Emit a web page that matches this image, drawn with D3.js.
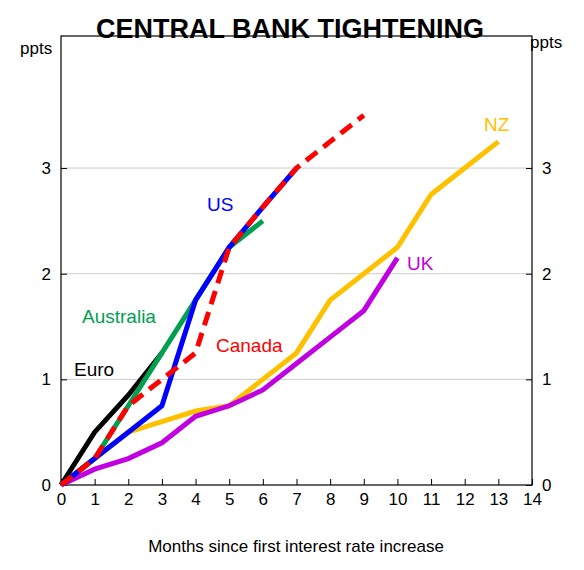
<!DOCTYPE html><html><head><script src="https://cdn.jsdelivr.net/npm/d3@7"></script>
<style>body{margin:0;background:#fff}</style></head><body><svg id="c" width="584" height="570"></svg>
<script>
const months=[0,1,2,3,4,5,6,7,8,9,10,11,12,13];
const euro=[0,0.5,0.85,1.25];
const australia=[0,0.25,0.75,1.25,1.75,2.25,2.5];
const us=[0,0.25,0.5,0.75,1.75,2.25,2.63,3.0];
const canada=[0,0.25,0.75,1.0,1.25,2.25,2.63,3.0,3.25,3.5];
const nz=[0,0.25,0.5,0.6,0.7,0.75,1.0,1.25,1.75,2.0,2.25,2.75,3.0,3.25];
const uk=[0,0.15,0.25,0.4,0.65,0.75,0.9,1.15,1.4,1.65,2.15];
const xTicks=[0,1,2,3,4,5,6,7,8,9,10,11,12,13,14];
const yTicks=[0,1,2,3];
const svg=d3.select("#c"),F="Liberation Sans, Arial, sans-serif";
const L=61,R=532,T=36,B=485;
const x=d3.scaleLinear().domain([0,14]).range([L,R]);
const y=d3.scaleLinear().domain([0,4.25]).range([B,T]);
svg.selectAll(".g").data(yTicks.slice(1)).join("line").attr("x1",L).attr("x2",R).attr("y1",d=>y(d)).attr("y2",d=>y(d)).attr("stroke","#ccc").attr("stroke-width",1);
svg.append("rect").attr("x",L).attr("y",T).attr("width",R-L).attr("height",B-T).attr("fill","none").attr("stroke","#000").attr("stroke-width",1.2);
const ax=svg.append("g").attr("transform",`translate(0,${B})`).call(d3.axisBottom(x).tickValues(xTicks).tickSize(-6).tickPadding(8).tickFormat(d3.format("d")));
const ayl=svg.append("g").attr("transform",`translate(${L},0)`).call(d3.axisLeft(y).tickValues(yTicks).tickSize(-6).tickPadding(10).tickFormat(d3.format("d")));
const ayr=svg.append("g").attr("transform",`translate(${R},0)`).call(d3.axisRight(y).tickValues(yTicks).tickSize(-6).tickPadding(10).tickFormat(d3.format("d")));
[ax,ayl,ayr].forEach(g=>{g.select(".domain").remove();g.selectAll("text").attr("font-family",F).attr("font-size",17).attr("fill","#000");});
const line=d3.line().x((d,i)=>x(months[i])).y(d=>y(d));
const series=[[nz,"#FFC000",null],[uk,"#C000E0",null],[euro,"#000",null],[australia,"#00A050",null],[us,"#0000FF",null],[canada,"#FF0000","14,8"]];
series.forEach(([d,c,da])=>svg.append("path").attr("d",line(d)).attr("fill","none").attr("stroke",c).attr("stroke-width",5).attr("stroke-dasharray",da));
const labs=[["US",207,211,"#0000FF"],["Australia",82,323,"#00A050"],["Euro",74,376,"#000"],["Canada",216,352,"#FF0000"],["UK",407,270,"#C000E0"],["NZ",484,131,"#FFC000"]];
labs.forEach(([t,a,b,c])=>svg.append("text").attr("x",a).attr("y",b).attr("fill",c).attr("font-family",F).attr("font-size",19).text(t));
svg.append("text").attr("x",290).attr("y",38).attr("text-anchor","middle").attr("font-family",F).attr("font-weight","bold").attr("font-size",27).text("CENTRAL BANK TIGHTENING");
svg.append("text").attr("x",20).attr("y",54).attr("font-family",F).attr("font-size",17).text("ppts");
svg.append("text").attr("x",530).attr("y",48).attr("font-family",F).attr("font-size",17).text("ppts");
svg.append("text").attr("x",296).attr("y",552).attr("text-anchor","middle").attr("font-family",F).attr("font-size",17).text("Months since first interest rate increase");
</script></body></html>
